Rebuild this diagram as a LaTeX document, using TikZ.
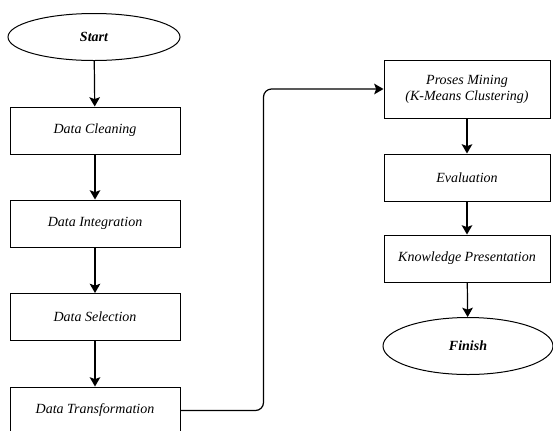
\documentclass[tikz,border=0pt]{standalone}
\usepackage{fontspec}
\setmainfont{Liberation Serif}
\usetikzlibrary{shapes.geometric,arrows.meta}
\tikzset{every picture/.style={line width=0.75pt}}
\tikzset{
  stepbox/.style={draw, rectangle, minimum width=127.5pt, minimum height=35.25pt, font=\itshape\fontsize{10.5}{12}\selectfont, align=center},
  endpoint/.style={draw, ellipse, minimum width=129pt, minimum height=35.25pt, inner sep=0pt, font=\bfseries\itshape\fontsize{10.5}{12}\selectfont},
  flow/.style={-{Stealth[length=7pt,width=8pt,inset=1.5pt]}, line width=0.9pt}
}

\begin{document}
\begin{tikzpicture}[x=0.75pt,y=0.75pt,yscale=-1,xscale=1]
  \useasboundingbox (0,0) rectangle (553,430);
  \clip (0,0) rectangle (553,430);

  %Left column
  \node [endpoint] (start) at (94,37) {Start};
  \node [stepbox] (clean) at (95,130.5) {Data Cleaning};
  \node [stepbox] (integ) at (95,223.5) {Data Integration};
  \node [stepbox] (select) at (95,317) {Data Selection};
  \node [stepbox] (trans) at (95,410.5) {Data Transformation};

  %Right column
  \node [stepbox, minimum width=124.5pt, minimum height=43.5pt] (mining) at (467,89) {Proses Mining\\(K-Means Clustering)};
  \node [stepbox, minimum width=124.5pt] (eval) at (467,177.5) {Evaluation};
  \node [stepbox, minimum width=124.5pt] (know) at (467,258.5) {Knowledge Presentation};
  \node [endpoint, minimum width=127.5pt, minimum height=42.75pt] (finish) at (468,346) {Finish};

  %Arrows
  \draw [flow] (start) -- (clean);
  \draw [flow] (clean) -- (integ);
  \draw [flow] (integ) -- (select);
  \draw [flow] (select) -- (trans);
  \draw [flow, rounded corners=6pt] (trans.east) -- ++(83,0) |- (mining.west);
  \draw [flow] (mining) -- (eval);
  \draw [flow] (eval) -- (know);
  \draw [flow] (know) -- (finish);
\end{tikzpicture}
\end{document}
